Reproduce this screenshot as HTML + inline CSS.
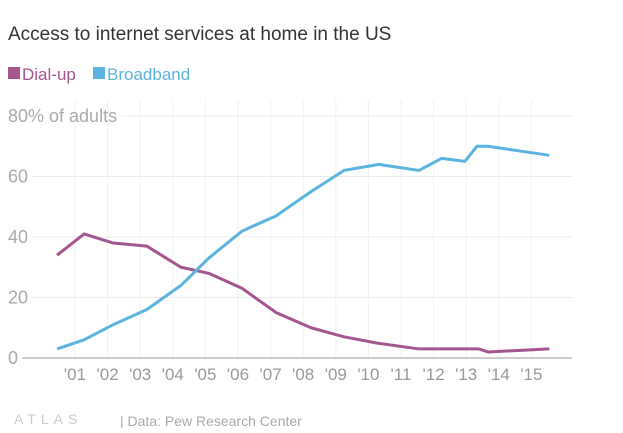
<!DOCTYPE html>
<html><head><meta charset="utf-8"><style>
body{margin:0;background:#fff;font-family:"Liberation Sans",sans-serif;}
svg text{font-family:"Liberation Sans",sans-serif;}
</style></head><body>
<svg width="623" height="428" id="c">
<text x="8" y="40" font-size="19" fill="#333">Access to internet services at home in the US</text>
<rect x="8" y="67" width="12" height="12" fill="#a5558f"/>
<text x="22" y="80" font-size="17" fill="#a5558f">Dial-up</text>
<rect x="93" y="67" width="12" height="12" fill="#5ab4df"/>
<text x="107" y="80" font-size="17" fill="#5ab4df">Broadband</text>
<g id="grid"></g><g id="series"></g>
<text x="14" y="424" font-size="14" fill="#ccc" letter-spacing="5">ATLAS</text>
<text x="120" y="426" font-size="14" fill="#aaa">| Data: Pew Research Center</text>
</svg>
<script>
const yTicks=[0,20,40,60,80];
const yearLabels=["'01","'02","'03","'04","'05","'06","'07","'08","'09","'10","'11","'12","'13","'14","'15"];
const dialYears=[2000.45,2001.28,2002.17,2003.2,2004.25,2005.1,2006.13,2007.17,2008.24,2009.25,2010.23,2011.55,2012.96,2013.39,2013.67,2015.55];
const dialVals=[34,41,38,37,30,28,23,15,10,7,5,3,3,3,2,3];
const bbYears=[2000.45,2001.28,2002.17,2003.2,2004.25,2005.1,2006.13,2007.17,2008.24,2009.25,2010.32,2011.55,2012.25,2012.96,2013.33,2013.67,2015.55];
const bbVals=[3,6,11,16,24,33,42,47,55,62,64,62,66,65,70,70,67];
const NS="http://www.w3.org/2000/svg";
const X=y=>75+(y-2001)*32.6, Y=v=>358-v*3.025;
const g=document.getElementById('grid'), s=document.getElementById('series');
function mk(t,a,p){const e=document.createElementNS(NS,t);for(const k in a)e.setAttribute(k,a[k]);p.appendChild(e);return e;}
yearLabels.forEach((l,i)=>{const x=X(2001+i);
 const ln=mk('line',{x1:x,x2:x,y1:100,y2:358,stroke:'#f2f2f2'},g);
 
 
 const t=mk('text',{x:x,y:380,'font-size':17,fill:'#999','text-anchor':'middle'},g);t.textContent=l;
 
 
});
yTicks.forEach(v=>{const y=Y(v);
 const t=mk('text',{x:8,y:y+6,'font-size':18,fill:'#aaa'},g);t.textContent=v===80?'80% of adults':v;
 
 
 const w=t.getComputedTextLength();
 const ln=mk('line',{x1:8+w+4,x2:572,y1:y,y2:y,stroke:v===0?'#999':'#ececec'},g);
 
 
});
function line(xs,vs,c,n){const p=mk('polyline',{points:xs.map((x,i)=>X(x)+','+Y(vs[i])).join(' '),fill:'none',stroke:c,'stroke-width':3,'stroke-linejoin':'round'},s);
 
 }
line(dialYears,dialVals,'#a5558f','dialup-line');
line(bbYears,bbVals,'#5ab4df','broadband-line');
</script>
</body></html>
